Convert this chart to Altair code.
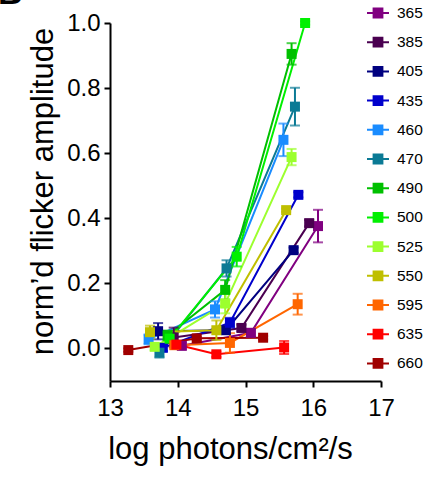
import altair as alt
import pandas as pd

wavelengths = ["365", "385", "405", "435", "460", "470", "490", "500", "525", "550", "595", "635", "660"]
colors = ["#800080", "#4A0050", "#000080", "#0000CC", "#1A8CFF", "#0B7A95", "#00C000",
          "#00F000", "#9CFF2E", "#BFBF00", "#FF6600", "#FF0000", "#A00000"]

x_365 = [14.06, 15.08, 16.07]; y_365 = [0.008, 0.048, 0.376]; e_365 = [0.010, 0.012, 0.050]
x_385 = [13.94, 14.94, 15.94]; y_385 = [0.034, 0.063, 0.385]; e_385 = [0.030, 0.010, 0.010]
x_405 = [13.71, 14.71, 15.71]; y_405 = [0.053, 0.056, 0.302]; e_405 = [0.025, 0.010, 0.008]
x_435 = [13.78, 14.77, 15.78]; y_435 = [0.002, 0.079, 0.472]; e_435 = [0.010, 0.015, 0.008]
x_460 = [13.57, 14.55, 15.56]; y_460 = [0.028, 0.120, 0.641]; e_460 = [0.015, 0.025, 0.050]
x_470 = [13.73, 14.72, 15.73]; y_470 = [-0.013, 0.246, 0.743]; e_470 = [0.015, 0.025, 0.058]
x_490 = [13.85, 14.70, 15.68]; y_490 = [0.040, 0.180, 0.905]; e_490 = [0.015, 0.030, 0.033]
x_500 = [13.88, 14.87, 15.88]; y_500 = [0.030, 0.282, 1.000]; e_500 = [0.010, 0.030, 0.005]
x_525 = [13.66, 14.70, 15.68]; y_525 = [0.005, 0.138, 0.588]; e_525 = [0.010, 0.030, 0.025]
x_550 = [13.59, 14.57, 15.60]; y_550 = [0.050, 0.056, 0.425]; e_550 = [0.020, 0.030, 0.005]
x_595 = [13.95, 14.77, 15.77]; y_595 = [0.010, 0.017, 0.136]; e_595 = [0.010, 0.030, 0.032]
x_635 = [13.98, 14.57, 15.57]; y_635 = [0.012, -0.018, 0.003]; e_635 = [0.005, 0.008, 0.020]
x_660 = [13.27, 14.28, 15.26]; y_660 = [-0.005, 0.031, 0.033]; e_660 = [0.005, 0.005, 0.005]

series = {
    "365": (x_365, y_365, e_365), "385": (x_385, y_385, e_385), "405": (x_405, y_405, e_405),
    "435": (x_435, y_435, e_435), "460": (x_460, y_460, e_460), "470": (x_470, y_470, e_470),
    "490": (x_490, y_490, e_490), "500": (x_500, y_500, e_500), "525": (x_525, y_525, e_525),
    "550": (x_550, y_550, e_550), "595": (x_595, y_595, e_595), "635": (x_635, y_635, e_635),
    "660": (x_660, y_660, e_660),
}

rows = []
for k, wl in enumerate(wavelengths):
    xs, ys, es = series[wl]
    for xv, yv, ev in zip(xs, ys, es):
        rows.append({"wl": wl, "ord": k, "logI": xv, "amp": yv, "lo": yv - ev, "hi": yv + ev})
df = pd.DataFrame(rows)

FONT = "Liberation Sans"

legend = alt.Legend(
    title=None, orient="none", legendX=256, legendY=-22, padding=0,
    symbolType="M -1 0 L 1 0 M -0.4 -0.4 L 0.4 -0.4 L 0.4 0.4 L -0.4 0.4 Z",
    symbolSize=484, symbolStrokeWidth=2, symbolOpacity=1,
    labelFontSize=15.5, labelFont=FONT, labelColor="black", labelOffset=7,
    rowPadding=8.2,
)

x_enc = alt.X("logI:Q", scale=alt.Scale(domain=[13, 17], nice=False, zero=False),
              axis=alt.Axis(values=[13, 14, 15, 16, 17], format="d", labelFlush=False,
                            title="log photons/cm²/s", titleX=120, titleY=77,
                            titleBaseline="alphabetic", labelPadding=9))
y_enc = alt.Y("amp:Q", scale=alt.Scale(domain=[-0.1, 1.0], nice=False, zero=False),
              axis=alt.Axis(values=[0, 0.2, 0.4, 0.6, 0.8, 1.0], format=".1f", labelFlush=False,
                            title="norm’d flicker amplitude", titleX=-58, titleY=168,
                            titleBaseline="alphabetic", labelPadding=4))
c_enc = alt.Color("wl:N", scale=alt.Scale(domain=wavelengths, range=colors),
                  sort=wavelengths, legend=legend)

base = alt.Chart(df)
lines = base.mark_line(strokeWidth=2).encode(x=x_enc, y=y_enc, color=c_enc, detail="wl:N")
err = base.mark_rule(strokeWidth=2).encode(x="logI:Q", y="lo:Q", y2="hi:Q", color=c_enc)
cap_lo = base.mark_tick(orient="horizontal", size=10, thickness=2).encode(
    x="logI:Q", y="lo:Q", color=c_enc)
cap_hi = base.mark_tick(orient="horizontal", size=10, thickness=2).encode(
    x="logI:Q", y="hi:Q", color=c_enc)
pts = base.mark_point(shape="square", filled=True, size=100, opacity=1).encode(
    x="logI:Q", y="amp:Q", color=c_enc)

panel = alt.Chart(pd.DataFrame({"t": ["B"]})).mark_text(
    font=FONT, fontSize=34, fontWeight="bold", align="left", baseline="alphabetic", color="black"
).encode(x=alt.value(-112), y=alt.value(-19), text="t:N")

chart = alt.layer(lines, err, cap_lo, cap_hi, pts, panel).properties(
    width=271, height=358,
    autosize=alt.AutoSizeParams(type="none"),
    padding={"left": 110, "top": 23, "right": 44, "bottom": 96},
    background="white",
).configure_view(stroke=None).configure_axis(
    grid=False, domainColor="black", domainWidth=2, tickColor="black", tickWidth=2,
    tickSize=6, labelFont=FONT, labelFontSize=24, labelColor="black",
    titleFont=FONT, titleFontSize=31, titleColor="black", titleFontWeight="normal",
)

chart.save("out.html", embed_options={"renderer": "svg", "actions": False})
